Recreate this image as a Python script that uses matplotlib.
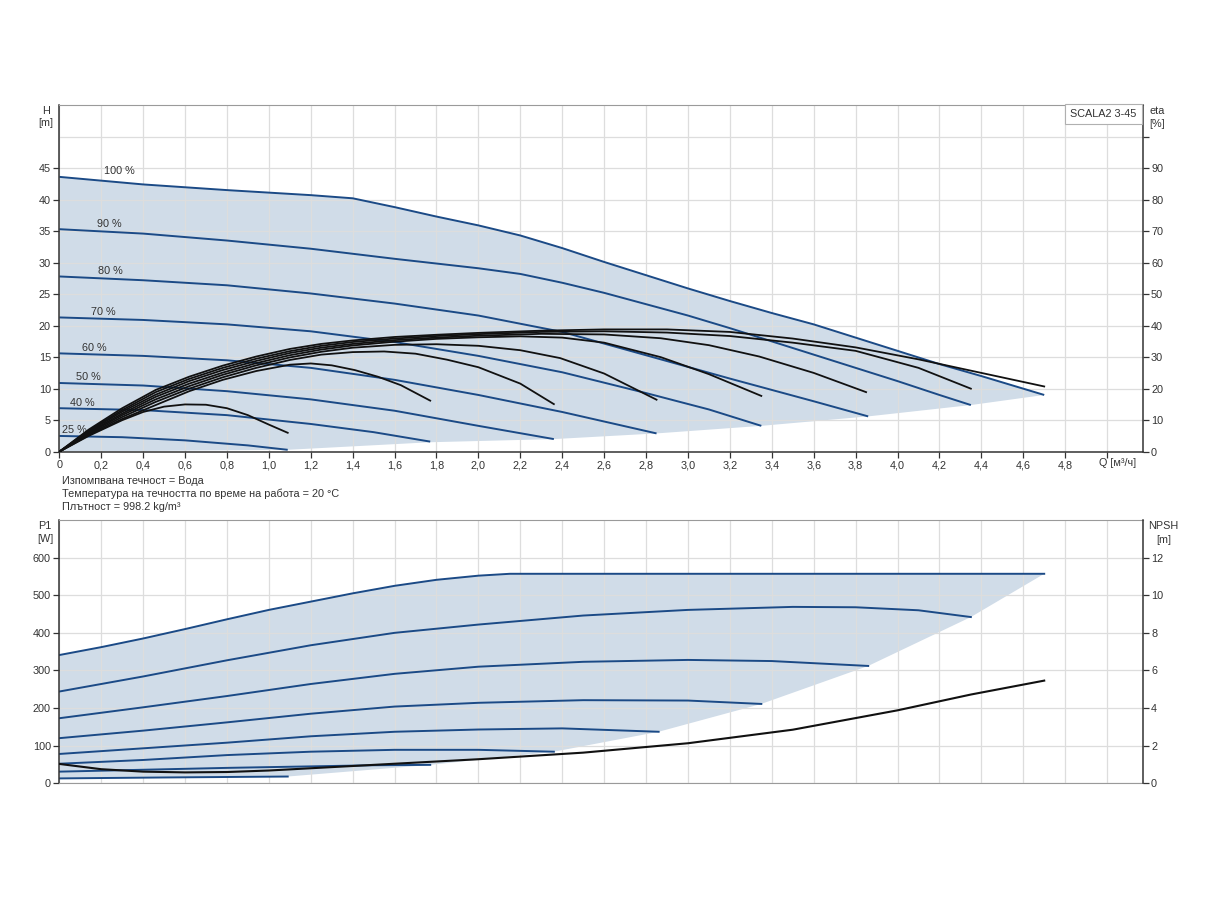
import numpy as np
import matplotlib
matplotlib.use("Agg")
import matplotlib.pyplot as plt

plt.rcParams['font.family'] = ['Liberation Sans', 'DejaVu Sans']

# ---------------- data ----------------
speed_labels = ["100 %", "90 %", "80 %", "70 %", "60 %", "50 %", "40 %", "25 %"]

# Head curves H [m] vs Q [m3/h]
h100_q = [0, 0.4, 0.8, 1.2, 1.4, 1.6, 1.8, 2.0, 2.2, 2.4, 2.6, 2.8, 3.0, 3.2, 3.4, 3.6, 3.8, 4.0, 4.2, 4.4, 4.7]
h100 = [43.6, 42.4, 41.5, 40.7, 40.2, 38.8, 37.3, 35.9, 34.3, 32.3, 30.1, 28.0, 25.9, 23.9, 22.0, 20.2, 18.1, 16.0, 13.9, 12.0, 9.0]
h90_q = [0, 0.4, 0.8, 1.2, 1.6, 2.0, 2.2, 2.4, 2.6, 2.8, 3.0, 3.2, 3.4, 3.6, 3.8, 4.0, 4.2, 4.35]
h90 = [35.3, 34.6, 33.5, 32.2, 30.6, 29.1, 28.2, 26.8, 25.2, 23.4, 21.6, 19.6, 17.5, 15.4, 13.3, 11.2, 9.0, 7.4]
h80_q = [0, 0.4, 0.8, 1.2, 1.6, 2.0, 2.4, 2.8, 3.2, 3.6, 3.86]
h80 = [27.8, 27.2, 26.4, 25.1, 23.5, 21.6, 19.0, 15.3, 11.6, 8.0, 5.6]
h70_q = [0, 0.4, 0.8, 1.2, 1.6, 2.0, 2.4, 2.8, 3.1, 3.35]
h70 = [21.3, 20.9, 20.2, 19.1, 17.4, 15.2, 12.6, 9.3, 6.7, 4.1]
h60_q = [0, 0.4, 0.8, 1.2, 1.6, 2.0, 2.4, 2.85]
h60 = [15.6, 15.2, 14.5, 13.3, 11.4, 9.0, 6.3, 2.9]
h50_q = [0, 0.4, 0.8, 1.2, 1.6, 2.0, 2.36]
h50 = [10.9, 10.5, 9.6, 8.3, 6.5, 4.1, 2.0]
h40_q = [0, 0.4, 0.8, 1.2, 1.5, 1.77]
h40 = [6.9, 6.6, 5.8, 4.4, 3.1, 1.6]
h25_q = [0, 0.3, 0.6, 0.9, 1.09]
h25 = [2.5, 2.3, 1.8, 1.0, 0.3]

# lower edge of the H operating range
h_lower_q = [4.70, 4.35, 3.86, 3.35, 2.85, 2.36, 1.77, 1.09, 0]
h_lower = [9.0, 7.4, 5.6, 4.1, 2.9, 2.0, 1.5, 0.3, 0]

# Efficiency curves eta [%]
eta100_q = [0, 0.14, 0.3, 0.46, 0.62, 0.78, 0.94, 1.1, 1.25, 1.4, 1.6, 1.8, 2.0, 2.3, 2.6, 2.9, 3.2, 3.5, 3.8, 4.1, 4.4, 4.7]
eta100 = [0, 7.0, 13.8, 19.6, 23.8, 27.3, 30.2, 32.6, 34.2, 35.3, 36.4, 37.1, 37.7, 38.4, 38.8, 38.8, 38.0, 35.9, 33.1, 29.3, 25.0, 20.7]
eta90_q = [0, 0.14, 0.3, 0.46, 0.62, 0.78, 0.94, 1.1, 1.25, 1.4, 1.6, 1.8, 2.0, 2.3, 2.6, 2.9, 3.2, 3.5, 3.8, 4.1, 4.35]
eta90 = [0, 6.7, 13.2, 18.9, 23.1, 26.6, 29.5, 31.9, 33.6, 34.8, 35.9, 36.7, 37.3, 38.0, 38.2, 37.8, 36.7, 34.6, 32.0, 26.6, 20.0]
eta80_q = [0, 0.14, 0.3, 0.46, 0.62, 0.78, 0.94, 1.1, 1.25, 1.4, 1.6, 1.8, 2.0, 2.3, 2.6, 2.87, 3.1, 3.34, 3.6, 3.85]
eta80 = [0, 6.4, 12.7, 18.1, 22.4, 25.9, 28.8, 31.3, 33.0, 34.2, 35.4, 36.2, 36.8, 37.4, 37.2, 36.0, 33.8, 30.2, 25.0, 18.9]
eta70_q = [0, 0.14, 0.3, 0.46, 0.62, 0.78, 0.94, 1.1, 1.25, 1.4, 1.6, 1.8, 2.0, 2.2, 2.4, 2.6, 2.87, 3.1, 3.35]
eta70 = [0, 6.1, 12.1, 17.4, 21.6, 25.1, 28.1, 30.6, 32.4, 33.7, 34.9, 35.8, 36.3, 36.6, 36.2, 34.6, 30.0, 24.6, 17.7]
eta60_q = [0, 0.14, 0.3, 0.46, 0.62, 0.78, 0.94, 1.1, 1.25, 1.4, 1.6, 1.8, 2.0, 2.2, 2.39, 2.6, 2.85]
eta60 = [0, 5.8, 11.6, 16.6, 20.8, 24.4, 27.4, 29.9, 31.7, 33.0, 33.9, 34.1, 33.6, 32.2, 29.7, 24.8, 16.5]
eta50_q = [0, 0.14, 0.3, 0.46, 0.62, 0.78, 0.94, 1.1, 1.25, 1.4, 1.55, 1.7, 1.85, 2.0, 2.2, 2.36]
eta50 = [0, 5.5, 11.0, 15.8, 20.0, 23.6, 26.6, 29.1, 30.8, 31.6, 31.8, 31.1, 29.2, 26.8, 21.6, 15.1]
eta40_q = [0, 0.14, 0.3, 0.46, 0.62, 0.78, 0.94, 1.1, 1.2, 1.3, 1.41, 1.52, 1.63, 1.77]
eta40 = [0, 5.2, 10.4, 14.8, 19.2, 22.8, 25.6, 27.6, 28.0, 27.4, 25.9, 23.8, 21.1, 16.2]
eta25_q = [0, 0.14, 0.3, 0.4, 0.5, 0.6, 0.7, 0.8, 0.9, 1.0, 1.09]
eta25 = [0, 5.0, 10.0, 12.6, 14.3, 15.0, 14.9, 13.8, 11.6, 8.6, 6.0]

# Power curves P1 [W]
p100_q = [0, 0.2, 0.4, 0.6, 0.8, 1.0, 1.2, 1.4, 1.6, 1.8, 2.0, 2.15, 2.5, 3.0, 3.5, 4.0, 4.5, 4.7]
p100 = [341, 362, 385, 410, 436, 461, 483, 505, 525, 541, 552, 557, 557, 557, 557, 557, 557, 557]
p90_q = [0, 0.4, 0.8, 1.2, 1.6, 2.0, 2.5, 3.0, 3.5, 3.8, 4.1, 4.35]
p90 = [244, 284, 327, 367, 400, 422, 446, 461, 469, 468, 460, 442]
p80_q = [0, 0.4, 0.8, 1.2, 1.6, 2.0, 2.5, 3.0, 3.4, 3.86]
p80 = [173, 202, 232, 264, 291, 310, 323, 328, 325, 312]
p70_q = [0, 0.4, 0.8, 1.2, 1.6, 2.0, 2.5, 3.0, 3.35]
p70 = [120, 140, 162, 185, 204, 214, 221, 220, 211]
p60_q = [0, 0.4, 0.8, 1.2, 1.6, 2.0, 2.4, 2.86]
p60 = [78, 93, 108, 125, 137, 143, 146, 137]
p50_q = [0, 0.4, 0.8, 1.2, 1.6, 2.0, 2.36]
p50 = [52, 62, 75, 84, 89, 89, 84]
p40_q = [0, 0.4, 0.8, 1.2, 1.5, 1.77]
p40 = [31, 36, 41, 45, 48, 49]
p25_q = [0, 0.5, 1.09]
p25 = [13, 15.5, 18]

# lower edge of the P1 operating range (from 25 % end to 100 % end)
p_lower_q = [4.70, 4.35, 3.86, 3.35, 2.86, 2.36, 1.77]
p_lower = [557, 442, 312, 211, 137, 84, 49]

# NPSH [m]
npsh_q = [0, 0.2, 0.4, 0.6, 0.8, 1.0, 1.2, 1.4, 1.6, 2.0, 2.5, 3.0, 3.5, 4.0, 4.35, 4.7]
npsh = [1.03, 0.75, 0.62, 0.58, 0.6, 0.68, 0.8, 0.92, 1.04, 1.28, 1.63, 2.13, 2.85, 3.88, 4.72, 5.46]

x_tick_labels = ["0", "0,2", "0,4", "0,6", "0,8", "1,0", "1,2", "1,4", "1,6", "1,8", "2,0",
                 "2,2", "2,4", "2,6", "2,8", "3,0", "3,2", "3,4", "3,6", "3,8", "4,0",
                 "4,2", "4,4", "4,6", "4,8", ""]
h_tick_labels = ["0", "5", "10", "15", "20", "25", "30", "35", "40", "45", ""]
eta_tick_labels = ["0", "10", "20", "30", "40", "50", "60", "70", "80", "90", ""]
p_tick_labels = ["0", "100", "200", "300", "400", "500", "600"]
npsh_tick_labels = ["0", "2", "4", "6", "8", "10", "12"]

notes = ["Изпомпвана течност = Вода",
         "Температура на течността по време на работа = 20 °C",
         "Плътност = 998.2 kg/m³"]
model_name = "SCALA2 3-45"

# ---------------- style ----------------
BLUE = "#1b4a86"
FILL = "#d0dce8"
GRID = "#dddddd"
TXT = "#333333"
FS = 7.8

W, HPX = 1224, 900
def fx(px):
    return px / W
def fy(py):
    return 1 - py / HPX

fig = plt.figure(figsize=(12.24, 9), dpi=100)
fig.patch.set_facecolor("white")

X0, X1 = 59.3, 1142.7
ax1 = fig.add_axes([fx(X0), fy(451.7), fx(X1) - fx(X0), fy(105) - fy(451.7)])
ax1r = ax1.twinx()
ax2 = fig.add_axes([fx(X0), fy(783.3), fx(X1) - fx(X0), fy(520) - fy(783.3)])
ax2r = ax2.twinx()

xticks = [0.2 * i for i in range(len(x_tick_labels))]

for ax in (ax1, ax2):
    ax.set_xlim(0, 5.17)
    ax.set_xticks(xticks)
    ax.set_axisbelow(True)
    ax.grid(True, color=GRID, lw=0.9)
    ax.spines['top'].set_color("#9a9a9a")
    ax.spines['right'].set_visible(False)
    ax.spines['left'].set_color("#333333")
    ax.spines['left'].set_linewidth(1.1)
for axr in (ax1r, ax2r):
    for s in ('top', 'left', 'bottom'):
        axr.spines[s].set_visible(False)
    axr.spines['right'].set_color("#333333")
    axr.spines['right'].set_linewidth(1.1)

# ---- top panel ----
ax1.set_ylim(0, 55)
ax1.set_yticks([5 * i for i in range(len(h_tick_labels))])
ax1.set_yticklabels(h_tick_labels)
ax1.set_xticklabels(x_tick_labels)
ax1.spines['bottom'].set_color("#333333")
ax1.spines['bottom'].set_linewidth(1.1)
ax1.tick_params(axis='both', labelsize=FS, labelcolor=TXT, color="#333333", length=4, width=0.9, pad=2)
ax1.yaxis.get_major_ticks()[-1].tick1line.set_visible(False)
ax1r.set_ylim(0, 110)
ax1r.set_yticks([10 * i for i in range(len(eta_tick_labels))])
ax1r.set_yticklabels(eta_tick_labels)
ax1r.tick_params(axis='y', labelsize=FS, labelcolor=TXT, color="#333333", length=4, width=0.9, pad=2)

top_q = list(h100_q) + list(h_lower_q)
top_h = list(h100) + list(h_lower)
ax1.fill(top_q, top_h, color=FILL, lw=0, zorder=0.3)

h_curves = [(h100_q, h100), (h90_q, h90), (h80_q, h80), (h70_q, h70),
            (h60_q, h60), (h50_q, h50), (h40_q, h40), (h25_q, h25)]
label_q = [0.215, 0.18, 0.185, 0.15, 0.11, 0.078, 0.05, 0.015]
for (q, h), lab, lq in zip(h_curves, speed_labels, label_q):
    ax1.plot(q, h, color=BLUE, lw=1.4, zorder=2, solid_capstyle='butt')
    ax1.text(lq, h[0] + 0.9, lab, fontsize=FS, color=TXT, ha='left', va='center', zorder=3)

eta_curves = [(eta100_q, eta100), (eta90_q, eta90), (eta80_q, eta80), (eta70_q, eta70),
              (eta60_q, eta60), (eta50_q, eta50), (eta40_q, eta40), (eta25_q, eta25)]
for q, e in eta_curves:
    ax1r.plot(q, e, color="#111111", lw=1.3, zorder=2)

fig.text(fx(1099), fy(462.7), "Q [м³/ч]", fontsize=FS, color=TXT, ha='left', va='center')

# ---- bottom panel ----
ax2.set_ylim(0, 700)
ax2.set_yticks([100 * i for i in range(len(p_tick_labels))])
ax2.set_yticklabels(p_tick_labels)
ax2.spines['bottom'].set_color("#9a9a9a")
ax2.tick_params(axis='x', length=0, labelbottom=False)
ax2.tick_params(axis='y', labelsize=FS, labelcolor=TXT, color="#333333", length=4, width=0.9, pad=2)
ax2r.set_ylim(0, 14)
ax2r.set_yticks([2 * i for i in range(len(npsh_tick_labels))])
ax2r.set_yticklabels(npsh_tick_labels)
ax2r.tick_params(axis='y', labelsize=FS, labelcolor=TXT, color="#333333", length=4, width=0.9, pad=2)

bot_q = list(p100_q) + list(p_lower_q) + list(p25_q[::-1])
bot_p = list(p100) + list(p_lower) + list(p25[::-1])
ax2.fill(bot_q, bot_p, color=FILL, lw=0, zorder=0.3)

p_curves = [(p100_q, p100), (p90_q, p90), (p80_q, p80), (p70_q, p70),
            (p60_q, p60), (p50_q, p50), (p40_q, p40), (p25_q, p25)]
for q, p in p_curves:
    ax2.plot(q, p, color=BLUE, lw=1.4, zorder=2)
ax2r.plot(npsh_q, npsh, color="#111111", lw=1.5, zorder=2)

# ---- axis titles & notes ----
fig.text(fx(46), fy(110.7), "H", fontsize=FS, color=TXT, ha='center', va='center')
fig.text(fx(46), fy(123.5), "[m]", fontsize=FS, color=TXT, ha='center', va='center')
fig.text(fx(1156.7), fy(111), "eta", fontsize=FS, color=TXT, ha='center', va='center')
fig.text(fx(1156.7), fy(124), "[%]", fontsize=FS, color=TXT, ha='center', va='center')
fig.text(fx(45), fy(526), "P1", fontsize=FS, color=TXT, ha='center', va='center')
fig.text(fx(45), fy(539.5), "[W]", fontsize=FS, color=TXT, ha='center', va='center')
fig.text(fx(1163.3), fy(526), "NPSH", fontsize=FS, color=TXT, ha='center', va='center')
fig.text(fx(1163.3), fy(539.7), "[m]", fontsize=FS, color=TXT, ha='center', va='center')

for i, line in enumerate(notes):
    fig.text(fx(61.5), fy(480.5 + 13.5 * i), line, fontsize=FS, color=TXT, ha='left', va='center')

fig.text(fx(1103.5), fy(114), model_name, fontsize=FS, color=TXT, ha='center', va='center',
         bbox=dict(boxstyle='square,pad=0.45', fc='white', ec='#b0b0b0', lw=0.8))

fig.savefig("out.png", dpi=100, facecolor="white")
